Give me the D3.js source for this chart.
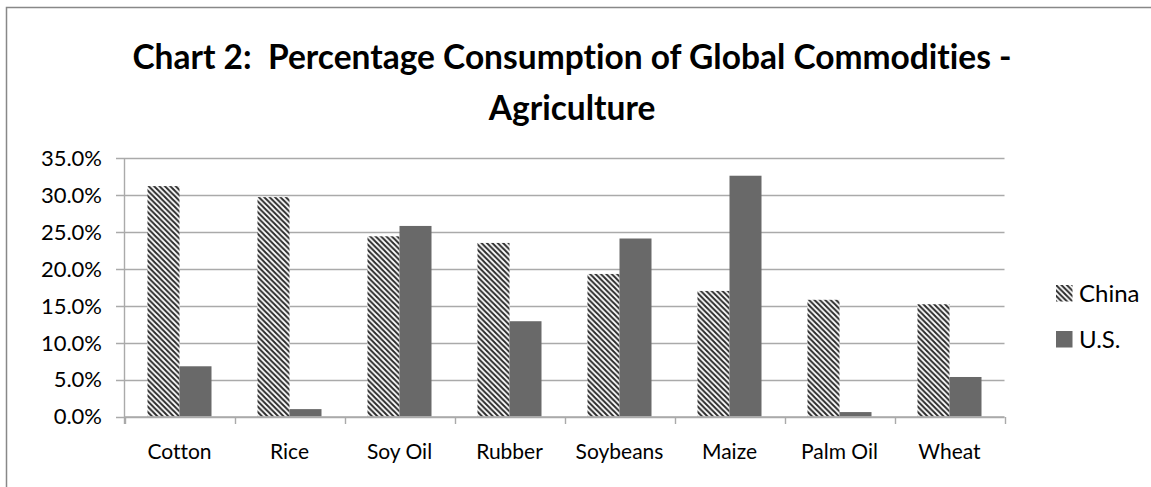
<!DOCTYPE html>
<html>
<head>
<meta charset="utf-8">
<script src="https://cdn.jsdelivr.net/npm/d3@7"></script>
<style>
  body { margin: 0; background: #fff; }
  text { font-family: Lato, "Open Sans", sans-serif; fill: #000; font-variant-ligatures: none; white-space: pre; }
</style>
</head>
<body>
<script>
// size of the page
var w = 1151;
var h = 487;

// data
var categories = ["Cotton", "Rice", "Soy Oil", "Rubber", "Soybeans", "Maize", "Palm Oil", "Wheat"];
var seriesNames = ["China", "U.S."];
var chinaValues = [0.312, 0.297, 0.244, 0.235, 0.193, 0.170, 0.158, 0.152];
var usValues = [0.068, 0.010, 0.258, 0.129, 0.241, 0.326, 0.006, 0.0535];
var yTicks = [0, 0.05, 0.10, 0.15, 0.20, 0.25, 0.30, 0.35];
var titleLines = ["Chart 2:  Percentage Consumption of Global Commodities -", "Agriculture"];

var svg = d3.select("body")
            .append("svg")
            .attr("width", w)
            .attr("height", h);

// hatch for China
var defs = svg.append("defs");
var pat = defs.append("pattern")
    .attr("id", "hatch")
    .attr("patternUnits", "userSpaceOnUse")
    .attr("width", 5.4)
    .attr("height", 5.4);
pat.append("rect").attr("width", 5.4).attr("height", 5.4).attr("fill", "#fff");
pat.append("path")
    .attr("d", "M-1,-1 L6.4,6.4 M-1,4.4 L1,6.4 M4.4,-1 L6.4,1")
    .attr("stroke", "#2a2a2a")
    .attr("stroke-width", 2);

// chart frame (runs off right and bottom like the original)
svg.append("rect")
    .attr("x", 6.5).attr("y", 7.5)
    .attr("width", 1200).attr("height", 600)
    .attr("fill", "none")
    .attr("stroke", "#888")
    .attr("stroke-width", 1.5);

// title
svg.append("g").selectAll("text")
    .data(titleLines)
    .enter().append("text")
    .attr("x", 572)
    .attr("y", function(d, i) { return 69 + i * 51; })
    .attr("text-anchor", "middle")
    .style("font-weight", "bold")
    .style("font-size", "33.5px")
    .text(function(d) { return d; });

// scales
var x0 = d3.scaleBand().domain(categories).range([124.5, 1004.5]);
var x1 = d3.scaleBand().domain(seriesNames).range([0, x0.bandwidth()])
    .paddingInner(0).paddingOuter(0.71875);
var y = d3.scaleLinear().domain([0, 0.35]).range([416.5, 158]);

// gridlines
svg.append("g").selectAll("line")
    .data(yTicks)
    .enter().append("line")
    .attr("x1", 116).attr("x2", 1004.5)
    .attr("y1", function(d) { return Math.round(y(d)) + 0.5; })
    .attr("y2", function(d) { return Math.round(y(d)) + 0.5; })
    .attr("stroke", "#aaa")
    .attr("stroke-width", 1.4);

// y axis line
svg.append("line")
    .attr("x1", 124.5).attr("x2", 124.5)
    .attr("y1", y(0.35)).attr("y2", 424)
    .attr("stroke", "#aaa").attr("stroke-width", 1.4);

// y tick labels
svg.append("g").selectAll("text")
    .data(yTicks)
    .enter().append("text")
    .attr("x", 102)
    .attr("y", function(d) { return y(d); })
    .attr("dy", "0.36em")
    .attr("text-anchor", "end")
    .style("font-size", "22px")
    .text(d3.format(".1%"));

// bars
var groups = svg.append("g").selectAll("g")
    .data(categories)
    .enter().append("g")
    .attr("transform", function(d) { return "translate(" + x0(d) + ",0)"; });

groups.selectAll("rect")
    .data(function(d, i) {
        return [{ s: "China", v: chinaValues[i] }, { s: "U.S.", v: usValues[i] }];
    })
    .enter().append("rect")
    .attr("x", function(d) { return x1(d.s); })
    .attr("width", x1.bandwidth())
    .attr("y", function(d) { return y(d.v); })
    .attr("height", function(d) { return y(0) - y(d.v); })
    .attr("fill", function(d) { return d.s == "China" ? "url(#hatch)" : "#696969"; });

// x axis line + ticks between categories
svg.append("line")
    .attr("x1", 124.5).attr("x2", 1004.5)
    .attr("y1", 417).attr("y2", 417)
    .attr("stroke", "#aaa").attr("stroke-width", 1.4);

var tickXs = categories.map(function(c) { return x0(c); }).concat([x0.range()[1]]);
svg.append("g").selectAll("line")
    .data(tickXs)
    .enter().append("line")
    .attr("x1", function(d) { return Math.round(d) + 0.5; })
    .attr("x2", function(d) { return Math.round(d) + 0.5; })
    .attr("y1", 417).attr("y2", 424)
    .attr("stroke", "#aaa").attr("stroke-width", 1.4);

// category labels
svg.append("g").selectAll("text")
    .data(categories)
    .enter().append("text")
    .attr("x", function(d) { return x0(d) + x0.bandwidth() / 2; })
    .attr("y", 459)
    .attr("text-anchor", "middle")
    .style("font-size", "21px")
    .text(function(d) { return d; });

// legend
var legend = svg.append("g").selectAll("g")
    .data(seriesNames)
    .enter().append("g")
    .attr("transform", function(d, i) { return "translate(1056," + (285 + i * 46) + ")"; });

legend.append("rect")
    .attr("width", 16.5).attr("height", 16.5)
    .attr("fill", function(d) { return d == "China" ? "url(#hatch)" : "#696969"; });

legend.append("text")
    .attr("x", 23)
    .attr("y", 8.5)
    .attr("dy", "0.36em")
    .style("font-size", "24px")
    .text(function(d) { return d; });
</script>
</body>
</html>
